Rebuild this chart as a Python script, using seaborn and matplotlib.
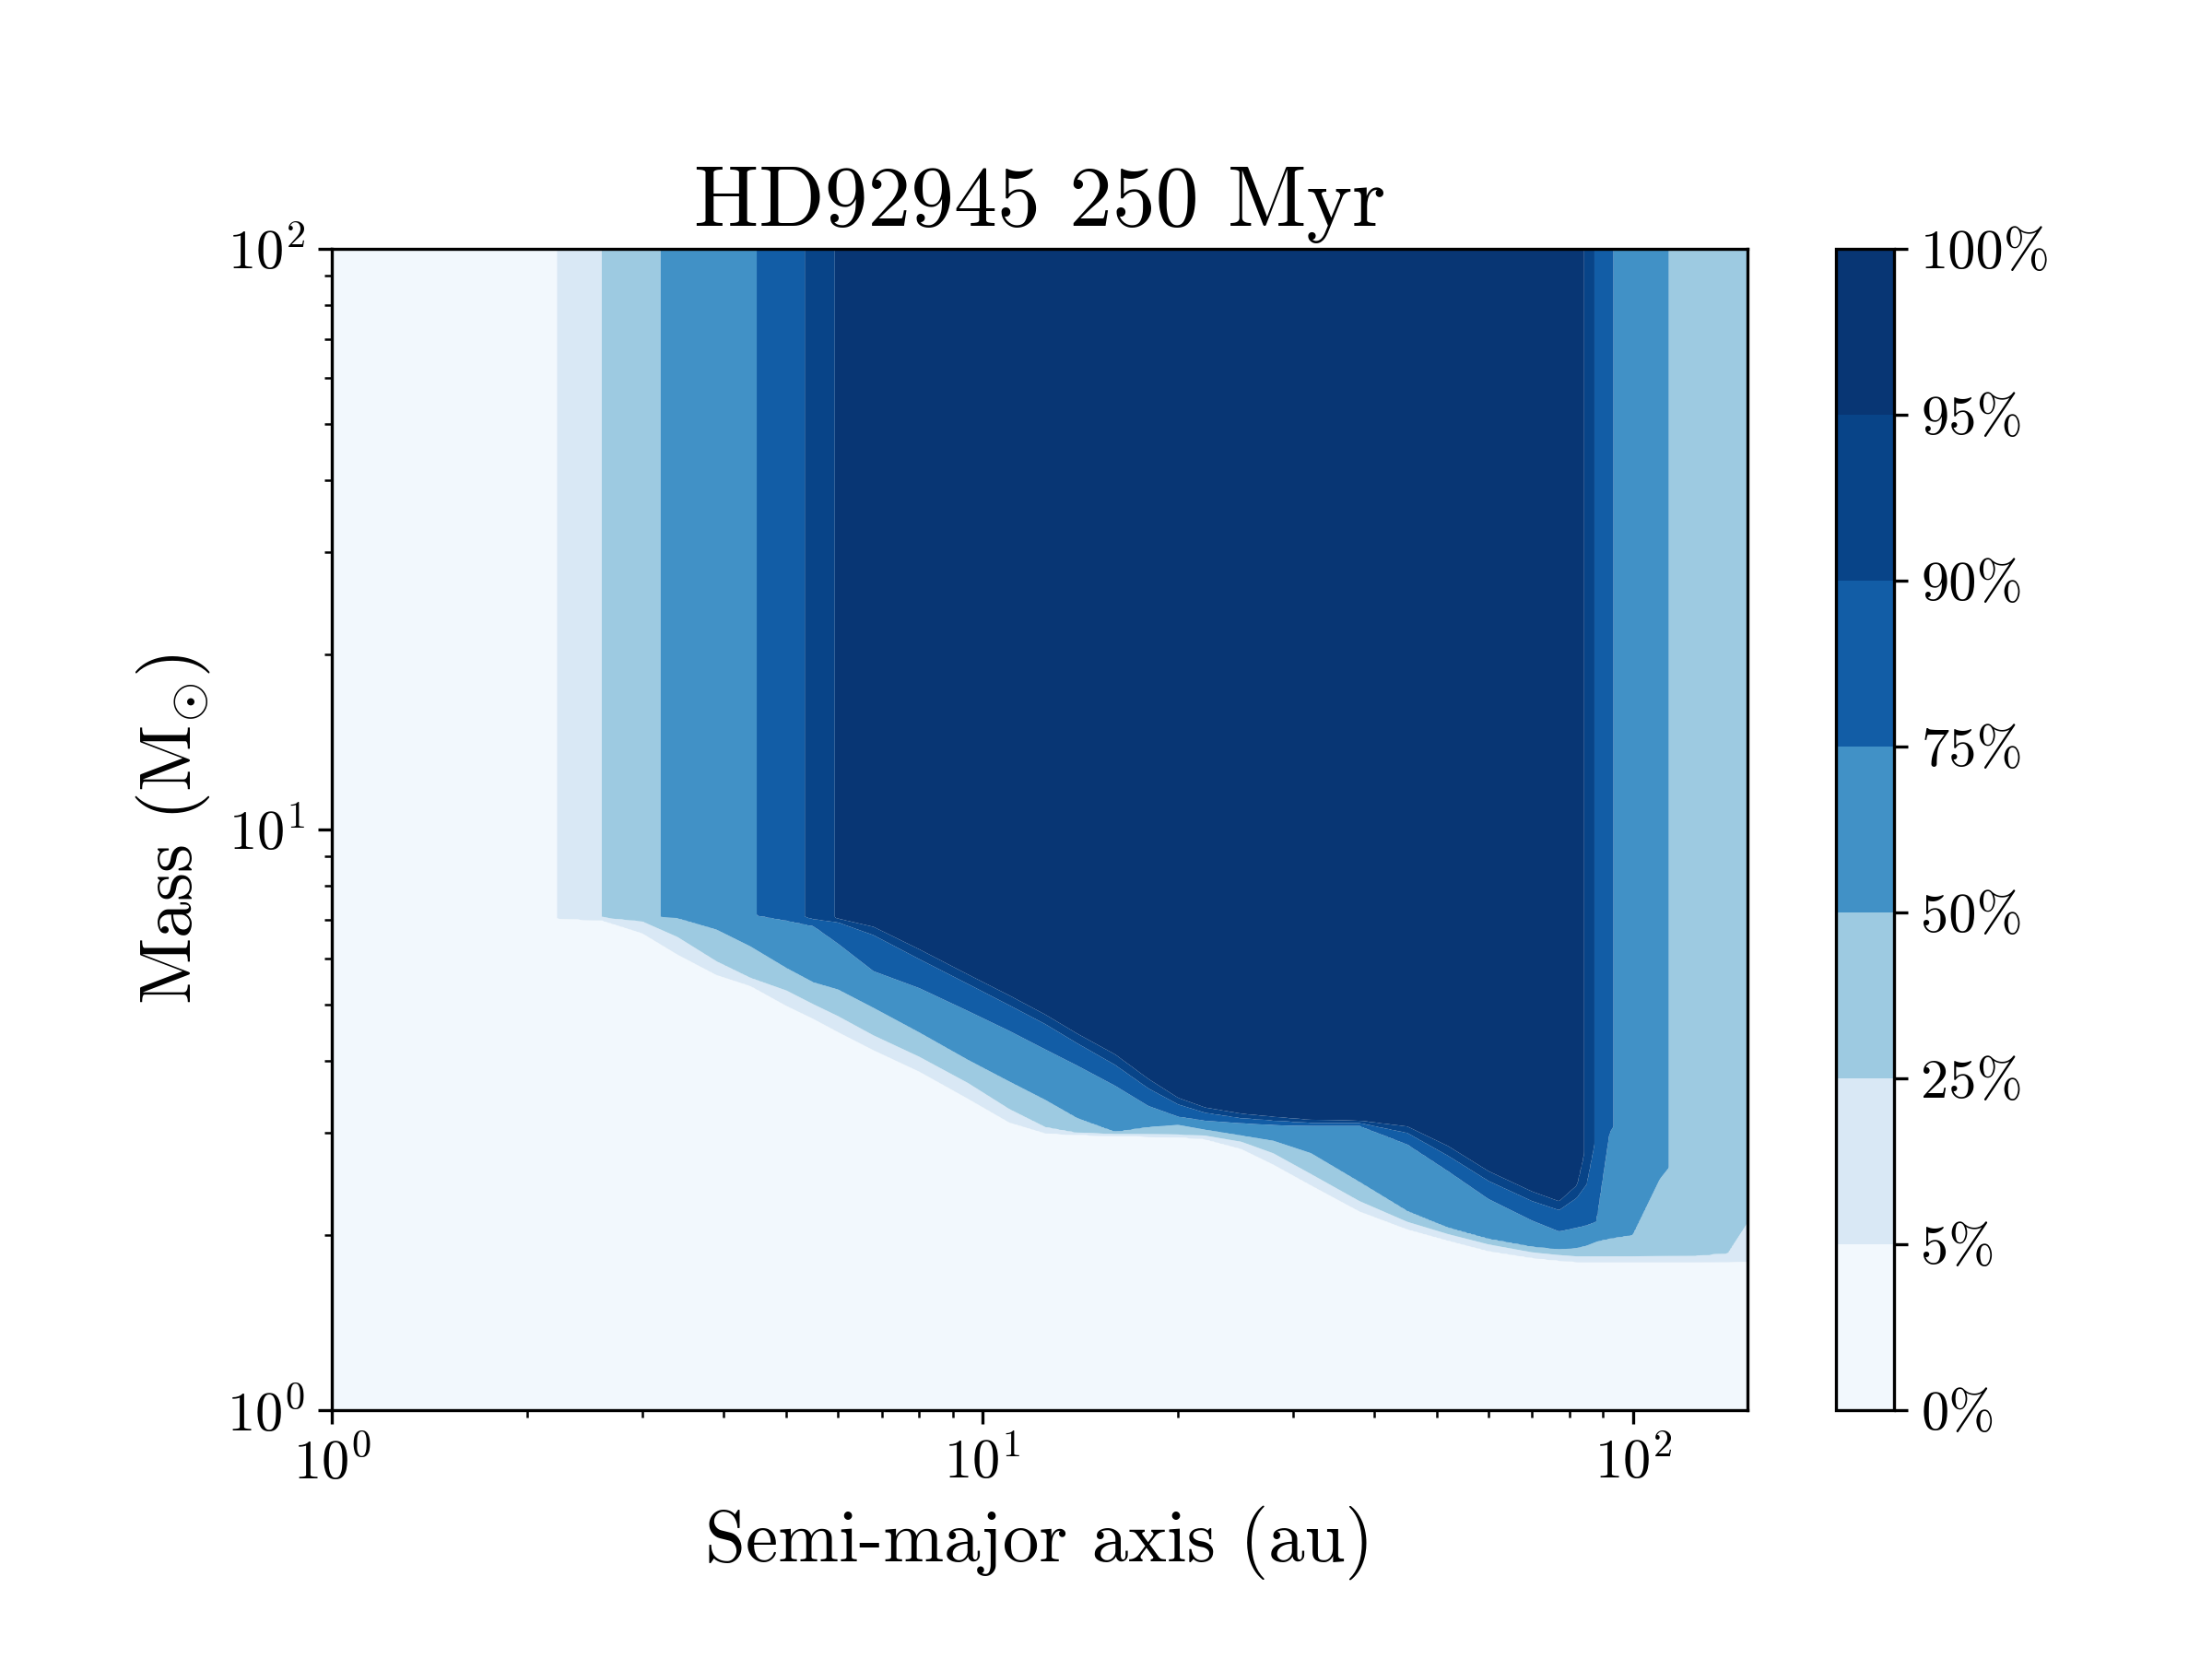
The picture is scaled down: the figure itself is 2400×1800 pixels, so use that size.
import numpy as np
import matplotlib
matplotlib.use("Agg")
import matplotlib.pyplot as plt
import seaborn as sns

# ---------------- data ----------------
title = "HD92945 250 Myr"
x_label = "Semi-major axis (au)"
y_label = r"Mass ($\mathrm{M}_{\odot}$)"
levels = [0, 5, 25, 50, 75, 90, 95, 100]
level_labels = ["0%", "5%", "25%", "50%", "75%", "90%", "95%", "100%"]

# detection probability (%) at high mass, as a function of semi-major axis (au)
top_a = [1.0, 1.80, 2.22, 2.60, 3.20, 4.50, 5.33, 5.93, 6.6, 80.0, 84.2, 87.3, 93.3, 113.5, 150.0]
top_p = [0, 0, 5, 25, 50, 75, 90, 95, 99, 99, 95, 90, 75, 50, 40]

# lower mass limit (M_sun) of each probability level, at these semi-major axes (au)
edge_a = [1.0, 2.2, 2.6, 3.0, 3.4, 3.9, 4.4, 5.0, 5.5, 6.0,
          6.8, 8.0, 9.5, 11, 12.5, 14, 16, 18, 20, 22,
          25, 28, 32, 38, 45, 52, 60, 70, 77, 82,
          85, 88, 92, 100, 110, 125, 140, 150]
edge_m05 = [7.03, 7.03, 6.98, 6.63, 6.09, 5.62, 5.38, 4.97, 4.72, 4.48,
            4.17, 3.83, 3.44, 3.13, 3.00, 2.98, 2.97, 2.96, 2.955, 2.93,
            2.82, 2.65, 2.44, 2.20, 2.05, 1.96, 1.88, 1.83, 1.81, 1.80,
            1.80, 1.80, 1.80, 1.80, 1.80, 1.80, 1.80, 1.80]
edge_m25 = [7.06, 7.06, 7.06, 6.95, 6.53, 5.93, 5.55, 5.28, 5.00, 4.77,
            4.42, 4.06, 3.66, 3.30, 3.07, 3.00, 2.99, 2.985, 2.98, 2.97,
            2.90, 2.77, 2.55, 2.29, 2.11, 2.01, 1.93, 1.87, 1.85, 1.84,
            1.84, 1.84, 1.84, 1.84, 1.84, 1.84, 1.86, 2.10]
edge_m50 = [7.10, 7.10, 7.10, 7.10, 7.04, 6.73, 6.29, 5.77, 5.45, 5.30,
            4.93, 4.47, 4.01, 3.68, 3.42, 3.18, 3.01, 3.07, 3.10, 3.04,
            2.97, 2.91, 2.77, 2.47, 2.20, 2.06, 1.97, 1.91, 1.89, 1.90,
            1.92, 1.95, 1.97, 2.00, 2.50, 3.00, 3.00, 3.00]
edge_m75 = [7.15, 7.15, 7.15, 7.15, 7.15, 7.15, 7.15, 6.97, 6.82, 6.36,
            5.70, 5.33, 4.87, 4.50, 4.18, 3.92, 3.62, 3.34, 3.20, 3.15,
            3.12, 3.10, 3.09, 3.09, 2.87, 2.58, 2.31, 2.12, 2.03, 2.06,
            2.08, 2.11, 3.00, 3.50, 3.50, 3.50, 3.50, 3.50]
edge_m90 = [7.20, 7.20, 7.20, 7.20, 7.20, 7.20, 7.20, 7.20, 7.00, 6.92,
            6.58, 5.98, 5.42, 4.98, 4.62, 4.28, 3.93, 3.58, 3.36, 3.25,
            3.18, 3.15, 3.12, 3.12, 3.00, 2.74, 2.48, 2.29, 2.21, 2.32,
            2.45, 3.00, 3.50, 4.00, 4.00, 4.00, 4.00, 4.00]
edge_m95 = [7.25, 7.25, 7.25, 7.25, 7.25, 7.25, 7.25, 7.25, 7.25, 7.02,
            6.80, 6.22, 5.63, 5.18, 4.80, 4.45, 4.10, 3.72, 3.45, 3.32,
            3.24, 3.20, 3.16, 3.15, 3.08, 2.85, 2.58, 2.38, 2.29, 2.44,
            2.90, 3.50, 4.00, 4.50, 4.50, 4.50, 4.50, 4.50]

# ---------------- build the probability map ----------------
a_grid = np.logspace(0, np.log10(150), 900)
m_grid = np.logspace(0, 2, 900)
la, lm = np.log10(a_grid), np.log10(m_grid)
ea = np.log10(edge_a)
edges = [edge_m05, edge_m25, edge_m50, edge_m75, edge_m90, edge_m95]
E = np.array([np.interp(la, ea, np.log10(e)) for e in edges])
E = np.vstack([E[0] + np.log10(0.97), E, E[-1] + np.log10(1.03)])
Zm = np.empty((m_grid.size, a_grid.size))
for j in range(a_grid.size):
    Zm[:, j] = np.interp(lm, E[:, j], levels)
Zt = np.interp(la, np.log10(top_a), top_p)
Z = np.minimum(Zm, Zt[None, :])

# ---------------- style ----------------
sns.set_style("ticks", rc={"axes.edgecolor": "black", "xtick.color": "black",
                           "ytick.color": "black", "text.color": "black",
                           "axes.labelcolor": "black"})
plt.rcParams["font.family"] = "serif"
plt.rcParams["font.serif"] = ["cmr10", "DejaVu Serif"]
plt.rcParams["mathtext.fontset"] = "cm"
plt.rcParams["axes.formatter.use_mathtext"] = True
plt.rcParams["axes.linewidth"] = 0.8

cmap = sns.color_palette("Blues", as_cmap=True)

fig, ax = plt.subplots(figsize=(8, 6), dpi=300)
fig.subplots_adjust(left=0.15, right=0.95, bottom=0.15, top=0.85)
cs = ax.contourf(a_grid, m_grid, Z, levels=levels, cmap=cmap, antialiased=True)
ax.set_xscale("log")
ax.set_yscale("log")
ax.set_xlim(1, 150)
ax.set_ylim(1, 100)
ax.set_title(title, fontsize=22.5)
ax.set_xlabel(x_label, fontsize=19)
ax.set_ylabel(y_label, fontsize=19)
ax.tick_params(axis="both", which="major", labelsize=14.5)

cbar = fig.colorbar(cs, ax=ax)
cbar.set_ticks(levels)
cbar.set_ticklabels(level_labels)
cbar.ax.tick_params(labelsize=14.5)
cbar.outline.set_edgecolor("black")

fig.savefig("out.png", dpi=300)
